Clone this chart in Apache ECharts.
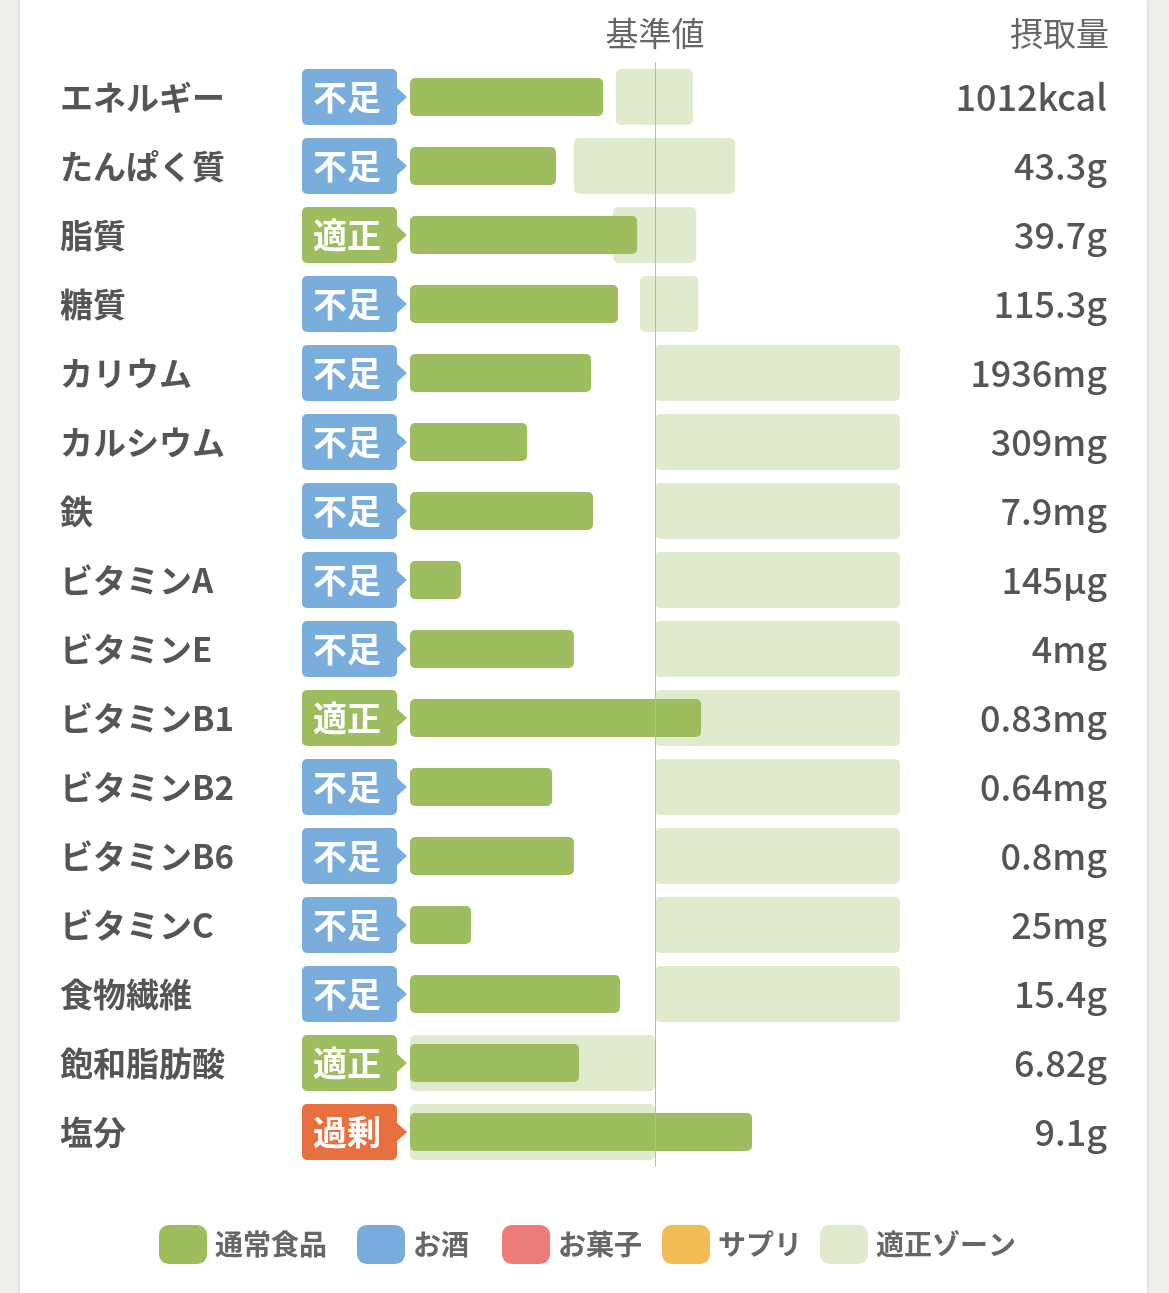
<!DOCTYPE html>
<html>
<head>
<meta charset="utf-8">
<title>栄養素</title>
<script src="https://cdn.jsdelivr.net/npm/echarts@6/dist/echarts.min.js"></script>
<style>
  html, body { margin: 0; padding: 0; background: #efefea; }
  #panel { position: absolute; left: 20px; top: 0; width: 1127px; height: 1293px; background: #fff; box-shadow: 0 0 3px rgba(0,0,0,0.18); }
  #chart { position: absolute; left: 0; top: 0; width: 1169px; height: 1293px; }
</style>
</head>
<body>
<div id="panel"></div>
<div id="chart"></div>
<script>
// 栄養素名
var categories = ['エネルギー', 'たんぱく質', '脂質', '糖質', 'カリウム', 'カルシウム', '鉄', 'ビタミンA',
  'ビタミンE', 'ビタミンB1', 'ビタミンB2', 'ビタミンB6', 'ビタミンC', '食物繊維', '飽和脂肪酸', '塩分'];
// 摂取量ラベル
var intakeLabels = ['1012kcal', '43.3g', '39.7g', '115.3g', '1936mg', '309mg', '7.9mg', '145µg',
  '4mg', '0.83mg', '0.64mg', '0.8mg', '25mg', '15.4g', '6.82g', '9.1g'];
// 判定
var statuses = ['不足', '不足', '適正', '不足', '不足', '不足', '不足', '不足',
  '不足', '適正', '不足', '不足', '不足', '不足', '適正', '過剰'];
// 通常食品（基準値=100 の割合）
var foodValues = [78.8, 59.6, 92.7, 84.9, 73.9, 47.8, 74.7, 20.8, 66.9, 118.8, 58.0, 66.9, 24.9, 85.7, 69.0, 139.6];
// 適正ゾーン 開始・終了
var zoneStart = [84.1, 66.9, 82.9, 93.9, 100, 100, 100, 100, 100, 100, 100, 100, 100, 100, 0, 0];
var zoneEnd = [115.5, 132.7, 116.7, 117.6, 200, 200, 200, 200, 200, 200, 200, 200, 200, 200, 100, 100];
var legendNames = ['通常食品', 'お酒', 'お菓子', 'サプリ', '適正ゾーン'];
var baseValue = 100;

var FONT = '"Noto Sans CJK JP", "Noto Sans", sans-serif';
var statusColor = { '不足': '#79addc', '適正': '#9dbd5e', '過剰': '#e8703f' };
// 凡例の各項目の左位置
var legendLeft = [159, 357, 502, 662, 820];

var zoneData = [];
var badgeData = [];
for (var i = 0; i < categories.length; i++) {
  zoneData.push([zoneStart[i], zoneEnd[i], i]);
  badgeData.push([0, i, statuses[i]]);
}

function renderZone(params, api) {
  var p1 = api.coord([api.value(0), api.value(2)]);
  var p2 = api.coord([api.value(1), api.value(2)]);
  var h = 56;
  return {
    type: 'rect',
    shape: { x: p1[0], y: p1[1] - h / 2, width: p2[0] - p1[0], height: h, r: 5 },
    style: { fill: '#e0eacd' }
  };
}

function renderBadge(params, api) {
  var p = api.coord([0, api.value(1)]);
  var st = statuses[params.dataIndex];
  var color = statusColor[st];
  var x = p[0] - 108, y = p[1], w = 95, h = 56;
  return {
    type: 'group',
    children: [
      { type: 'rect', shape: { x: x, y: y - h / 2, width: w, height: h, r: 5 }, style: { fill: color } },
      { type: 'polygon', shape: { points: [[x + w - 1, y - 10], [x + w + 10, y], [x + w - 1, y + 10]] }, style: { fill: color } },
      { type: 'text', style: { text: st, x: x + 45, y: y, align: 'center', verticalAlign: 'middle',
          fill: '#fff', font: 'bold 34px ' + FONT } }
    ]
  };
}

// 凡例は項目ごとに置く
var legends = legendNames.map(function (n, k) {
  return {
    data: [n],
    left: legendLeft[k],
    top: 1225,
    padding: 0,
    itemWidth: 48,
    itemHeight: 39,
    icon: 'roundRect',
    selectedMode: false,
    textStyle: { fontSize: 28, fontWeight: 'bold', color: '#666', padding: [0, 0, 0, 3], fontFamily: FONT }
  };
});

var chart = echarts.init(document.getElementById('chart'));
var option = {
  backgroundColor: 'transparent',
  animation: false,
  textStyle: { fontFamily: FONT },
  title: [
    { text: '基準値', left: 650, textAlign: 'center', top: 12,
      textStyle: { fontSize: 33, fontWeight: 'normal', color: '#666', fontFamily: FONT } },
    { text: '摂取量', right: 55, top: 12,
      textStyle: { fontSize: 33, fontWeight: 'normal', color: '#666', fontFamily: FONT } }
  ],
  legend: legends,
  grid: { left: 410, top: 62.5, width: 490, height: 1104 },
  xAxis: {
    type: 'value', min: 0, max: 200,
    axisLine: { show: false }, axisTick: { show: false }, axisLabel: { show: false }, splitLine: { show: false }
  },
  yAxis: [{
    type: 'category', data: categories, inverse: true,
    axisLine: { show: false }, axisTick: { show: false },
    axisLabel: { align: 'left', margin: 350, fontSize: 33, fontWeight: 'bold', color: '#555', fontFamily: FONT }
  }, {
    type: 'category', data: intakeLabels, inverse: true, position: 'right',
    axisLine: { show: false }, axisTick: { show: false },
    axisLabel: { align: 'right', margin: 207, fontSize: 36, fontWeight: 500, color: '#555', fontFamily: FONT }
  }],
  series: [{
    name: '適正ゾーン', type: 'custom', renderItem: renderZone, data: zoneData,
    itemStyle: { color: '#e0eacd' }, z: 1, silent: true
  }, {
    name: '通常食品', type: 'bar', stack: 'total', data: foodValues, barWidth: 38,
    itemStyle: { color: '#9dbd5e', borderRadius: 5 }, z: 3,
    markLine: {
      silent: true, symbol: 'none', label: { show: false },
      lineStyle: { color: '#b8b8b8', width: 1, type: 'solid' },
      data: [{ xAxis: baseValue }]
    }
  }, {
    name: 'お酒', type: 'bar', stack: 'total', data: [], barWidth: 38, itemStyle: { color: '#78acdc' }
  }, {
    name: 'お菓子', type: 'bar', stack: 'total', data: [], barWidth: 38, itemStyle: { color: '#ec7b7a' }
  }, {
    name: 'サプリ', type: 'bar', stack: 'total', data: [], barWidth: 38, itemStyle: { color: '#f2bb55' }
  }, {
    name: '判定', type: 'custom', renderItem: renderBadge, data: badgeData, clip: false, z: 4, silent: true
  }]
};
chart.setOption(option);
</script>
</body>
</html>
